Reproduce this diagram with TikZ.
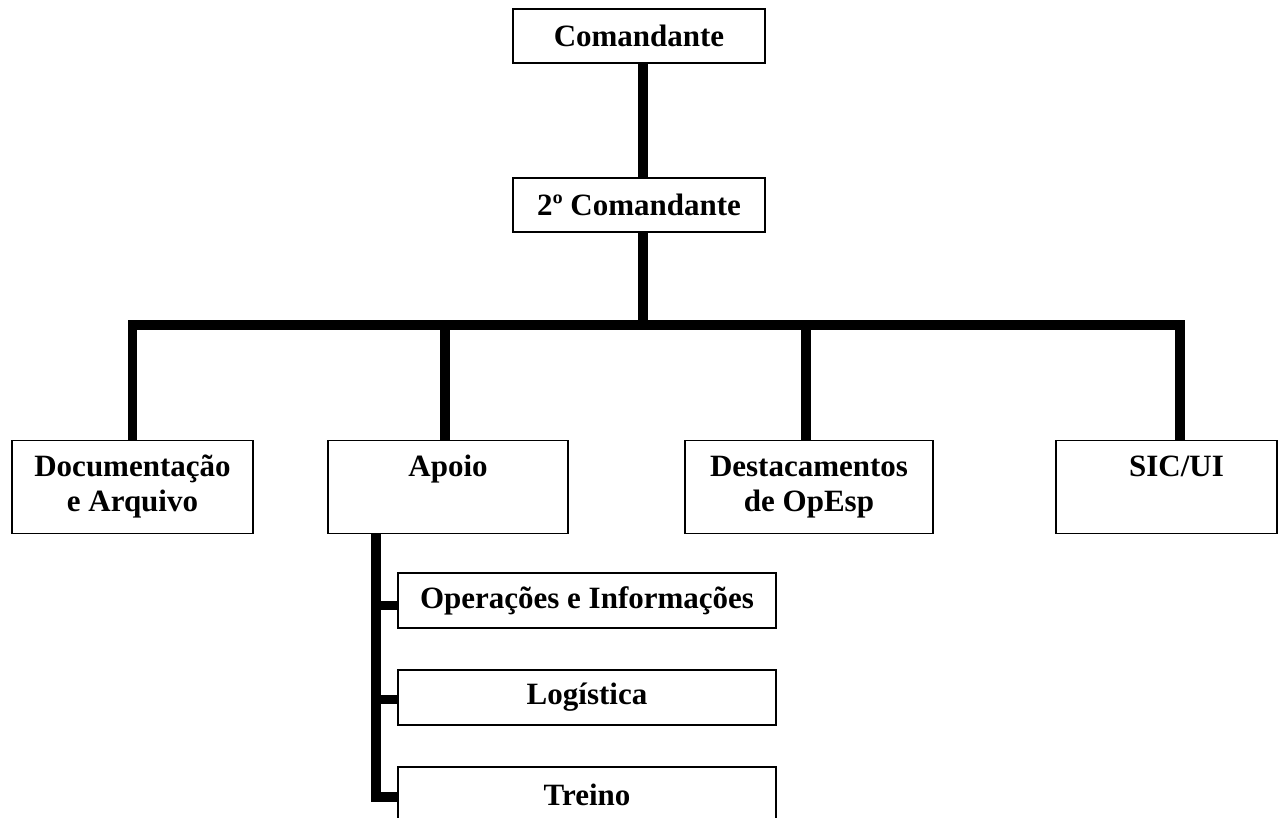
\documentclass[tikz,border=0pt]{standalone}
\usepackage{fontspec}
\setmainfont{Liberation Serif}
\begin{document}
\begin{tikzpicture}[x=1pt,y=-1pt,
  box/.style={draw,line width=1.8pt,inner sep=0pt,align=center,
              font=\bfseries\fontsize{31}{35}\selectfont},
  conn/.style={line width=9.5pt,line join=miter}]
\useasboundingbox (0,0) rectangle (1279,818);
% nodes
\node[box,minimum width=252pt,minimum height=54pt] (Com) at (639,36) {Comandante};
\node[box,minimum width=252pt,minimum height=54pt] (C2) at (639,205) {2º Comandante};
\node[box,minimum width=241pt,minimum height=93pt] (Doc) at (132.5,487) {Documentação\strut\\e Arquivo\strut};
\node[box,minimum width=240pt,minimum height=93pt] (Apo) at (448,487) {Apoio\strut\\\strut};
\node[box,minimum width=248pt,minimum height=93pt] (Des) at (809,487) {Destacamentos\strut\\de OpEsp\strut};
\node[box,minimum width=221pt,minimum height=93pt] (SIC) at (1166.5,487) {\hspace*{20pt}SIC/UI\strut\\\strut};
\node[box,minimum width=378pt,minimum height=55pt] (Op) at (587,600.5) {Operações e Informações};
\node[box,minimum width=378pt,minimum height=55pt] (Log) at (587,697.5) {Logística};
\node[box,minimum width=378pt,minimum height=55pt] (Tr) at (587,794.5) {Treino};
% connectors
\coordinate (bus) at (643,325);
\draw[conn] ([xshift=4pt]Com.south) -- ([xshift=4pt]C2.north);
\draw[conn] ([xshift=4pt]C2.south) -- (bus);
\draw[conn] (Doc.north) |- (bus) -| ([xshift=13.5pt]SIC.north);
\draw[conn] ([xshift=-3pt]Apo.north) -- ([xshift=-3pt]Apo.north |- bus);
\draw[conn] ([xshift=-3pt]Des.north) -- ([xshift=-3pt]Des.north |- bus);
\coordinate (ax) at ([xshift=49pt]Apo.south west);
\draw[conn] (ax) |- ([yshift=-2.5pt]Tr.west);
\draw[conn] ([yshift=-5pt]ax |- Op.west) -- ([yshift=-5pt]Op.west);
\draw[conn] ([yshift=-2pt]ax |- Log.west) -- ([yshift=-2pt]Log.west);
\end{tikzpicture}
\end{document}
